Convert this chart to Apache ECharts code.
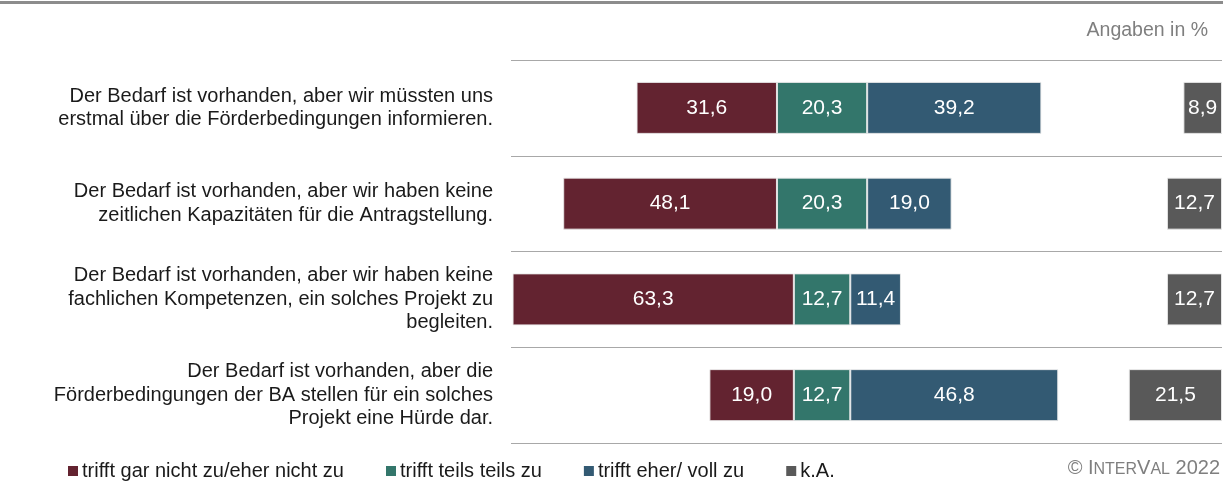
<!DOCTYPE html>
<html>
<head>
<meta charset="utf-8">
<script src="https://cdn.jsdelivr.net/npm/echarts@6/dist/echarts.min.js"></script>
<style>
  html, body { margin: 0; padding: 0; background: #fff; }
  #main { width: 1223px; height: 483px; }
</style>
</head>
<body>
<div id="main"></div>
<script>
// Aussagen (von oben nach unten)
var categories = [
  "Der Bedarf ist vorhanden, aber wir müssten uns\nerstmal über die Förderbedingungen informieren.",
  "Der Bedarf ist vorhanden, aber wir haben keine\nzeitlichen Kapazitäten für die Antragstellung.",
  "Der Bedarf ist vorhanden, aber wir haben keine\nfachlichen Kompetenzen, ein solches Projekt zu\nbegleiten.",
  "Der Bedarf ist vorhanden, aber die\nFörderbedingungen der BA stellen für ein solches\nProjekt eine Hürde dar."
];
var seriesNames = ["trifft gar nicht zu/eher nicht zu", "trifft teils teils zu", "trifft eher/ voll zu", "k.A."];
var nichtZu = [31.6, 48.1, 63.3, 19.0];
var teilsTeils = [20.3, 20.3, 12.7, 12.7];
var vollZu = [39.2, 19.0, 11.4, 46.8];
var keineAngabe = [8.9, 12.7, 12.7, 21.5];

var COLOR = {
  red: "#632330",
  green: "#33766b",
  blue: "#335a73",
  grey: "#595959"
};

// Mitte der "teils teils"-Balken liegt auf diesem Wert
var CENTER = 70;

var myChart = echarts.init(document.getElementById('main'));

// unsichtbarer Sockel, damit die Balken um die Mitte zentriert sind
var offset = nichtZu.map(function (v, i) {
  return +(CENTER - v - teilsTeils[i] / 2).toFixed(2);
});

function fmt(p) {
  return String(p.value.toFixed(1)).replace('.', ',');
}

function barSeries(name, data, color) {
  return {
    name: name,
    type: 'bar',
    stack: 'd',
    barWidth: 52,
    data: data,
    itemStyle: { color: color, borderColor: 'rgba(235,235,235,0.9)', borderWidth: 1 },
    label: {
      show: true,
      position: 'inside',
      color: '#fff',
      fontFamily: 'Liberation Sans',
      fontSize: 21,
      formatter: fmt
    }
  };
}

var series = [
  {
    name: 'offset',
    type: 'bar',
    stack: 'd',
    barWidth: 52,
    data: offset,
    itemStyle: { color: 'transparent' },
    silent: true
  },
  barSeries(seriesNames[0], nichtZu, COLOR.red),
  barSeries(seriesNames[1], teilsTeils, COLOR.green),
  barSeries(seriesNames[2], vollZu, COLOR.blue)
];
var ka = barSeries(seriesNames[3], keineAngabe, COLOR.grey);
ka.stack = 'ka';
ka.xAxisIndex = 1;
ka.yAxisIndex = 1;
series.push(ka);

myChart.setOption({
  animation: false,
  textStyle: { fontFamily: 'Liberation Sans' },
  grid: { left: 511, right: 1, top: 60, bottom: 40 },
  xAxis: [
    { type: 'value', min: 0, max: 160, show: false },
    { type: 'value', min: 0, max: 164, inverse: true, show: false }
  ],
  yAxis: [
    {
      type: 'category',
      inverse: true,
      data: categories,
      axisLine: { show: false },
      axisTick: { show: false },
      splitLine: { show: true, lineStyle: { color: '#a8a8a8', width: 1.2 } },
      axisLabel: {
        margin: 18,
        color: '#1a1a1a',
        fontSize: 20,
        lineHeight: 23.5,
        align: 'right'
      }
    },
    { type: 'category', inverse: true, data: categories, show: false }
  ],
  legend: {
    data: seriesNames,
    left: 63,
    top: 456,
    icon: 'rect',
    itemWidth: 10,
    itemHeight: 10,
    itemGap: 42,
    itemStyle: { borderWidth: 0 },
    textStyle: { color: '#1a1a1a', fontSize: 20, padding: [0, 0, 0, -1] }
  },
  graphic: [
    {
      type: 'rect',
      shape: { x: 0, y: 1, width: 1223, height: 3 },
      style: { fill: '#8c8c8c' }
    },
    {
      type: 'text',
      right: 15,
      top: 21,
      style: { text: 'Angaben in %', fill: '#7f7f7f', fontSize: 19.5, fontFamily: 'Liberation Sans' }
    },
    {
      type: 'text',
      right: 3,
      top: 458,
      style: {
        text: '{a|© I}{b|NTER}{a|V}{b|AL}{a| 2022}',
        rich: {
          a: { fill: '#7f7f7f', fontSize: 20, lineHeight: 22, verticalAlign: 'bottom', fontFamily: 'Liberation Sans' },
          b: { fill: '#7f7f7f', fontSize: 16, lineHeight: 22, verticalAlign: 'bottom', fontFamily: 'Liberation Sans' }
        }
      }
    }
  ],
  series: series
});

window.onresize = myChart.resize;
</script>
</body>
</html>
